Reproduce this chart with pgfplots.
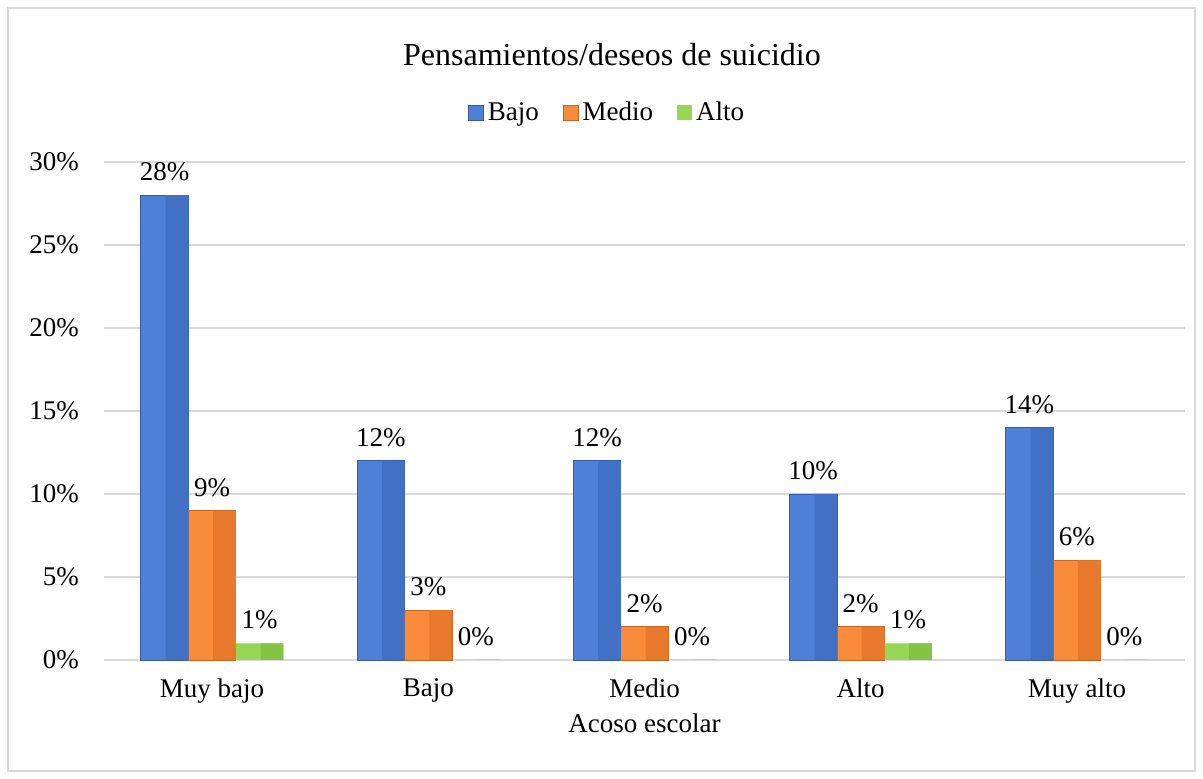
\documentclass[border=0pt]{standalone}
\usepackage{fontspec}
\setmainfont{Liberation Serif}
\usepackage{pgfplots}
\pgfplotsset{compat=1.18}
\definecolor{cblueL}{HTML}{4F80D8}
\definecolor{cblueD}{HTML}{4170C4}
\definecolor{cblueE}{HTML}{335DA8}
\definecolor{corangeL}{HTML}{FA8B3A}
\definecolor{corangeD}{HTML}{E8792C}
\definecolor{corangeE}{HTML}{C86522}
\definecolor{cgreenL}{HTML}{96D655}
\definecolor{cgreenD}{HTML}{84C444}
\definecolor{cgreenE}{HTML}{6AA032}
\definecolor{cgrid}{HTML}{D9D9D9}
\begin{document}
\begin{tikzpicture}
\path[fill=white] (-52pt,-59.5pt) rectangle (549.5pt,330pt);
\draw[cgrid, line width=0.8pt] (-48pt,-55.5pt) rectangle (545.5pt,326pt);
\begin{axis}[
  at={(0,0)}, anchor=south west,
  scale only axis, width=540.5pt, height=249pt,
  ybar=0pt, bar width=23.75pt,
  ymin=0, ymax=30, ytick={0,5,...,30},
  xmin=-0.5, xmax=4.5, xtick={0,1,2,3,4},
  xticklabels={Muy bajo,Bajo,Medio,Alto,Muy alto},
  axis x line*=bottom, axis y line*=left,
  x axis line style={cgrid, line width=0.8pt},
  y axis line style={draw=none},
  major tick length=0pt,
  xmajorgrids=false, ymajorgrids=true,
  major grid style={cgrid, line width=0.8pt},
  yticklabel={\pgfmathprintnumber{\tick}\%},
  /pgf/number format/assume math mode=true,
  ticklabel style={font=\fontsize{13.5}{15}\selectfont},
  yticklabel style={xshift=-9pt},
  xticklabel style={yshift=-6pt},
  xlabel={Acoso escolar},
  xlabel style={font=\fontsize{13.5}{15}\selectfont, yshift=2pt},
  every node near coord/.append style={font=\fontsize{13.5}{15}\selectfont, yshift=3.5pt},
  legend style={at={(252pt,273.5pt)}, anchor=center, draw=none, fill=none,
    legend columns=-1, font=\fontsize{13.5}{15}\selectfont,
    /tikz/every even column/.append style={column sep=10pt}},
  legend image code/.code={\fill[#1] (0pt,-3.5pt) rectangle (7.5pt,4pt);},
  clip=false,
]
\addplot[draw=cblueE, fill=cblueL, bar shift=-23.75pt, nodes near coords={\pgfmathprintnumber{\pgfplotspointmeta}\%}] coordinates {(0,28) (1,12) (2,12) (3,10) (4,14)};
\addplot[draw=corangeE, fill=corangeL, bar shift=0pt, nodes near coords={\pgfmathprintnumber{\pgfplotspointmeta}\%}] coordinates {(0,9) (1,3) (2,2) (3,2) (4,6)};
\addplot[draw=none, fill=cgreenL, bar shift=23.75pt, nodes near coords={\pgfmathprintnumber{\pgfplotspointmeta}\%}] coordinates {(0,1) (1,0) (2,0) (3,1) (4,0)};
\addplot[draw=none, fill=cblueD, bar width=11.4pt, bar shift=-17.5pt, forget plot] coordinates {(0,28) (1,12) (2,12) (3,10) (4,14)};
\addplot[draw=none, fill=corangeD, bar width=11.4pt, bar shift=6.2pt, forget plot] coordinates {(0,9) (1,3) (2,2) (3,2) (4,6)};
\addplot[draw=none, fill=cgreenD, bar width=11.4pt, bar shift=29.9pt, forget plot] coordinates {(0,1) (1,0) (2,0) (3,1) (4,0)};
\legend{Bajo,Medio,Alto}
\node[font=\fontsize{16}{18}\selectfont] at (axis description cs:0,0) [xshift=254pt, yshift=302.5pt] {Pensamientos/deseos de suicidio};
\end{axis}
\end{tikzpicture}
\end{document}
